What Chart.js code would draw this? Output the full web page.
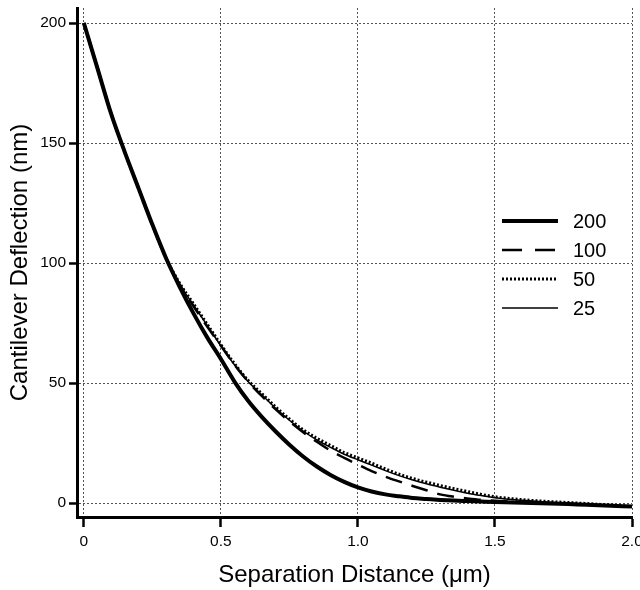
<!DOCTYPE html>
<html>
<head>
<meta charset="utf-8">
<script src="https://cdn.jsdelivr.net/npm/chart.js@4/dist/chart.umd.min.js"></script>
<style>
  html, body { margin: 0; padding: 0; background: #fff; }
</style>
</head>
<body>
<canvas id="deflChart" width="640" height="590"></canvas>
<script>
// separation distance (um)
const xVals = [0, 0.05, 0.1, 0.15, 0.2, 0.25, 0.3, 0.35, 0.4, 0.45, 0.5, 0.55, 0.6, 0.65, 0.7, 0.75,
  0.8, 0.85, 0.9, 0.95, 1.0, 1.05, 1.1, 1.15, 1.2, 1.25, 1.3, 1.35, 1.4, 1.45, 1.5, 1.6, 1.7, 1.8, 1.9, 2.0];

// cantilever deflection (nm) for each series
const defl200 = [200, 181, 162, 146, 131, 116, 102, 90, 79, 69, 60, 50.5, 42.5, 35.8, 29.8, 24.3,
  19.4, 15.2, 11.7, 8.8, 6.5, 4.8, 3.6, 2.8, 2.1, 1.7, 1.3, 1.0, 0.8, 0.6, 0.4, 0.1, -0.2, -0.6, -1, -1.5];
const defl100 = [200, 181, 162, 146, 131, 116, 102, 91, 82, 73.5, 65.5, 57.5, 50.5, 44.5, 39, 34,
  29.5, 25.5, 21.8, 18.8, 16, 13.3, 11, 9, 7.1, 5.3, 3.6, 2.6, 1.9, 1.3, 0.9, 0.3, -0.1, -0.5, -1, -1.5];
const defl50 = [200, 181, 162, 146, 131, 116, 102, 91.5, 83, 74.5, 66, 58, 51, 45.5, 40, 35,
  30.5, 27, 24, 21, 18.8, 16.6, 14.2, 12, 10.2, 8.7, 7.3, 6, 4.8, 3.6, 2.6, 1.4, 0.6, 0, -0.7, -1.4];
const defl25 = [200, 181, 162, 146, 131, 116, 102, 91, 82.5, 74, 65.5, 57.5, 50.5, 45, 39.5, 34.5,
  30, 26.3, 23.2, 20.3, 18, 15.8, 13.5, 11.4, 9.6, 8, 6.6, 5.3, 4.1, 3.1, 2.2, 1.1, 0.3, -0.2, -0.8, -1.5];

const seriesLabels = ['200', '100', '50', '25'];
const xTicks = [0, 0.5, 1.0, 1.5, 2.0];
const yTicks = [0, 50, 100, 150, 200];

const FONT = '"Liberation Sans", Arial, Helvetica, sans-serif';

function toPoints(ys) {
  return xVals.map((x, i) => ({ x: x, y: ys[i] }));
}

// legend drawn inside the plot, like the original
const inlineLegend = {
  id: 'inlineLegend',
  afterDraw(chart) {
    const ctx = chart.ctx;
    chart.data.datasets.forEach((ds, i) => {
      const y = 221 + i * 29;
      ctx.save();
      ctx.strokeStyle = '#000';
      ctx.lineWidth = ds.borderWidth;
      ctx.setLineDash(ds.legendDash || []);
      ctx.beginPath();
      ctx.moveTo(502, y);
      ctx.lineTo(558, y);
      ctx.stroke();
      ctx.setLineDash([]);
      ctx.fillStyle = '#000';
      ctx.font = '20px ' + FONT;
      ctx.textBaseline = 'middle';
      ctx.fillText(ds.label, 573, y + 1);
      ctx.restore();
    });
  }
};

const sets = [
  { label: seriesLabels[0], data: toPoints(defl200), borderWidth: 4, borderDash: [], legendDash: [] },
  { label: seriesLabels[1], data: toPoints(defl100), borderWidth: 2.5, borderDash: [17, 10], legendDash: [20, 13] },
  { label: seriesLabels[2], data: toPoints(defl50), borderWidth: 3, borderDash: [2, 2], legendDash: [2, 2] },
  { label: seriesLabels[3], data: toPoints(defl25), borderWidth: 1.5, borderDash: [], legendDash: [] }
].map(d => Object.assign({
  borderColor: '#000',
  backgroundColor: '#000',
  pointRadius: 0,
  fill: false,
  cubicInterpolationMode: 'monotone'
}, d));

new Chart(document.getElementById('deflChart'), {
  type: 'line',
  data: { datasets: sets },
  options: {
    responsive: false,
    animation: false,
    layout: { padding: { top: 8, right: 8, left: 0, bottom: 0 } },
    plugins: {
      legend: { display: false },
      tooltip: { enabled: false }
    },
    scales: {
      x: {
        type: 'linear',
        min: -0.025,
        max: 2.0,
        afterBuildTicks: s => { s.ticks = xTicks.map(v => ({ value: v })); },
        afterFit: s => { s.height = 73; s.paddingLeft = 0; s.paddingRight = 0; },
        ticks: {
          color: '#000',
          font: { family: FONT, size: 15.5 },
          padding: 5,
          maxRotation: 0,
          callback: v => (v === 0 ? '0' : v.toFixed(1))
        },
        grid: {
          color: '#555',
          lineWidth: 1,
          tickColor: '#000',
          tickWidth: 2.5,
          tickLength: 10
        },
        border: { display: true, color: '#000', width: 3, dash: [2, 2] },
        title: {
          display: true,
          text: 'Separation Distance (μm)',
          color: '#000',
          font: { family: FONT, size: 24 },
          padding: { top: 0, bottom: 0 }
        }
      },
      y: {
        type: 'linear',
        min: -5.83,
        max: 206.25,
        afterBuildTicks: s => { s.ticks = yTicks.map(v => ({ value: v })); },
        afterFit: s => { s.width = 77; s.paddingTop = 0; s.paddingBottom = 0; },
        ticks: {
          color: '#000',
          font: { family: FONT, size: 15.5 },
          padding: 3
        },
        grid: {
          color: '#555',
          lineWidth: 1,
          tickColor: '#000',
          tickWidth: 2.5,
          tickLength: 8
        },
        border: { display: true, color: '#000', width: 3, dash: [2, 2] },
        title: {
          display: true,
          text: 'Cantilever Deflection (nm)',
          color: '#000',
          font: { family: FONT, size: 24 },
          padding: { top: 6, bottom: 0 }
        }
      }
    }
  },
  plugins: [inlineLegend]
});
</script>
</body>
</html>
